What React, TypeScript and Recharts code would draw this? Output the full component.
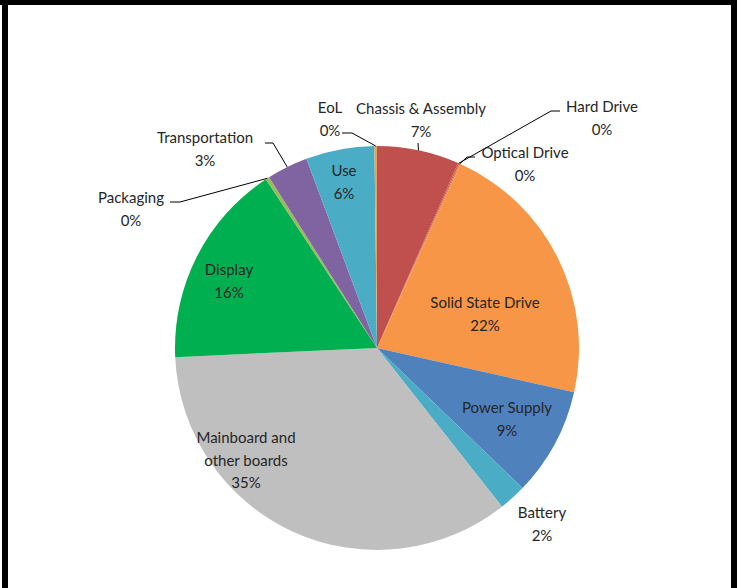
import { PieChart, Pie, Cell } from 'recharts';

const NAMES = [
  'Chassis & Assembly',
  'Hard Drive',
  'Optical Drive',
  'Solid State Drive',
  'Power Supply',
  'Battery',
  'Mainboard and other boards',
  'Display',
  'Packaging',
  'Transportation',
  'Use',
  'EoL',
];
const SHARES = [6.6, 0.1, 0.1, 21.8, 8.7, 2.2, 35.0, 16.5, 0.3, 3.3, 5.5, 0.2];
const PERCENT_LABELS = ['7%', '0%', '0%', '22%', '9%', '2%', '35%', '16%', '0%', '3%', '6%', '0%'];

const COLORS = [
  '#C0504D', '#C8584A', '#E07A45', '#F79646', '#4F81BD', '#4BACC6',
  '#BFBFBF', '#00B050', '#9BBB59', '#8064A2', '#4BACC6', '#E8A25C',
];

// label placement relative to the pie centre; leader points relative to the label
const LABEL_SPOTS: Record<string, { dx: number; dy: number; lines?: string[]; leader?: number[][] }> = {
  'EoL': { dx: -47, dy: -241, leader: [[12, 26], [22, 26]] },
  'Chassis & Assembly': { dx: 44, dy: -240, leader: [[-3, 35]] },
  'Hard Drive': { dx: 225, dy: -242, leader: [[-42, 5], [-51, 5]] },
  'Optical Drive': { dx: 148, dy: -196, leader: [[-50, 5], [-58, 5]] },
  'Solid State Drive': { dx: 108, dy: -46 },
  'Power Supply': { dx: 130, dy: 59 },
  'Battery': { dx: 165, dy: 164 },
  'Mainboard and other boards': { dx: -131, dy: 89, lines: ['Mainboard and', 'other boards'] },
  'Display': { dx: -148, dy: -79 },
  'Packaging': { dx: -246, dy: -151, leader: [[39, 5], [49, 5]] },
  'Transportation': { dx: -172, dy: -211, leader: [[60, 6], [68, 6]] },
  'Use': { dx: -33, dy: -178 },
};

const data = NAMES.map((name, i) => ({ name, value: SHARES[i], pct: PERCENT_LABELS[i] }));

const RAD = Math.PI / 180;
const LINE_H = 22.5;

function renderLabel(props: any) {
  const { cx, cy, midAngle, outerRadius, index } = props;
  const name = NAMES[index];
  const spot = LABEL_SPOTS[name];
  const x = cx + spot.dx;
  const y = cy + spot.dy;
  const lines = [...(spot.lines ?? [name]), PERCENT_LABELS[index]];
  let leader = null;
  if (spot.leader) {
    const ex = cx + outerRadius * Math.cos(-midAngle * RAD);
    const ey = cy + outerRadius * Math.sin(-midAngle * RAD);
    const pts = spot.leader.map(([ox, oy]) => `${x + ox},${y + oy}`).concat(`${ex},${ey}`);
    leader = <polyline points={pts.join(' ')} fill="none" stroke="#000" strokeWidth={1} />;
  }
  return (
    <g key={`lbl-${index}`}>
      {leader}
      {lines.map((t, k) => (
        <text
          key={k}
          x={x}
          y={y + k * LINE_H}
          textAnchor="middle"
          dominantBaseline="central"
          fill="#262626"
          fontSize={15}
          fontFamily="Lato, 'Noto Sans', sans-serif"
        >
          {t}
        </text>
      ))}
    </g>
  );
}

export default function App() {
  return (
    <div style={{ position: 'absolute', left: 0, top: 0, width: 737, height: 588, background: '#fff' }}>
      <div style={{ position: 'absolute', left: 0, top: 0, width: 737, height: 5, background: '#000' }} />
      <div style={{ position: 'absolute', left: 2, top: 0, width: 6, height: 588, background: '#000' }} />
      <div style={{ position: 'absolute', left: 731, top: 0, width: 6, height: 588, background: '#000' }} />
      <PieChart width={737} height={588} margin={{ top: 0, right: 0, bottom: 0, left: 0 }}>
        <Pie
          data={data}
          dataKey="value"
          nameKey="name"
          cx={377}
          cy={348}
          outerRadius={202}
          startAngle={90}
          endAngle={-270}
          stroke="none"
          label={renderLabel}
          labelLine={false}
          isAnimationActive={false}
        >
          {data.map((d, i) => (
            <Cell key={d.name} fill={COLORS[i]} />
          ))}
        </Pie>
      </PieChart>
    </div>
  );
}
